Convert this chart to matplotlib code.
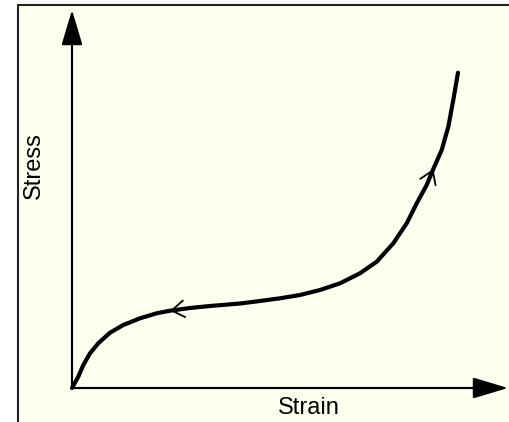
import matplotlib.pyplot as plt
from matplotlib.patches import Rectangle

# stress-strain curve (strain and stress scaled 0..1)
strain = [0.0, 0.0163, 0.0293, 0.0466, 0.0681, 0.0984, 0.1329, 0.1762, 0.2194,
          0.2539, 0.3057, 0.3575, 0.4352, 0.4870, 0.5389, 0.5907, 0.6425, 0.6943,
          0.7461, 0.7894, 0.8324, 0.8671, 0.8930, 0.9189, 0.9360, 0.9578, 0.9749,
          0.9878, 1.0]
stress = [0.0, 0.0358, 0.0728, 0.1098, 0.1415, 0.1750, 0.1994, 0.2206, 0.2364,
          0.2446, 0.2532, 0.2595, 0.2674, 0.2753, 0.2839, 0.2943, 0.3101, 0.3313,
          0.3630, 0.3997, 0.4579, 0.5212, 0.5845, 0.6424, 0.6930, 0.7532, 0.8269,
          0.9114, 0.9978]

# direction arrows on the curve: (tip, tail)
arrow_marks = [((0.2539, 0.2446), (0.3057, 0.2532)),
               ((0.9360, 0.6930), (0.9189, 0.6424))]

x_label = 'Strain'
y_label = 'Stress'

W, H = 509, 422
fig = plt.figure(figsize=(W / 100, H / 100), dpi=100)
fig.patch.set_facecolor('white')

ax = fig.add_axes([0, 0, 1, 1])
ax.set_facecolor('none')
ox, oy, sx, sy = 72, 388, 386, 316
ax.set_xlim(-ox / sx, (W - ox) / sx)
ax.set_ylim(-(H - oy) / sy, oy / sy)
ax.axis('off')

# cream panel with a dark frame on left and top
ax.add_patch(Rectangle((17.5 / W, -0.1), 1.2, 1.1 - 5.5 / H, transform=ax.transAxes,
                       facecolor='#fffff0', edgecolor='#222222', lw=1.5, zorder=0,
                       clip_on=False))

# axes with filled arrow heads
axis_col = '#444444'
ax.annotate('', xy=(0, (oy - 10) / sy), xytext=(0, 0), annotation_clip=False,
            arrowprops=dict(arrowstyle='-|>,head_length=1.1,head_width=0.33',
                            lw=1.5, color=axis_col, fc='black', ec='black',
                            shrinkA=0, shrinkB=0, mutation_scale=20))
ax.plot([0, 0], [0, (oy - 40) / sy], color=axis_col, lw=1.5)
ax.annotate('', xy=((W - 1 - ox) / sx, 0), xytext=(0, 0), annotation_clip=False,
            arrowprops=dict(arrowstyle='-|>,head_length=1.1,head_width=0.33',
                            lw=1.5, color=axis_col, fc='black', ec='black',
                            shrinkA=0, shrinkB=0, mutation_scale=20))
ax.plot([0, (487 - ox) / sx], [0, 0], color=axis_col, lw=1.5)

ax.plot(strain, stress, color='black', lw=3, solid_capstyle='round',
        solid_joinstyle='round', zorder=3)

for tip, tail in arrow_marks:
    ax.annotate('', xy=tip, xytext=tail,
                arrowprops=dict(arrowstyle='->,head_length=0.45,head_width=0.3',
                                lw=1.3, color='black', shrinkA=0, shrinkB=0,
                                mutation_scale=20), zorder=4)

ax.text((309 - ox) / sx, -(408 - oy) / sy, x_label, ha='center', va='center',
        fontsize=17, family='Liberation Sans')
ax.text((34 - ox) / sx, (oy - 166) / sy, y_label, ha='center', va='center',
        rotation=90, fontsize=17, family='Liberation Sans')

fig.savefig('out.png', dpi=100)
